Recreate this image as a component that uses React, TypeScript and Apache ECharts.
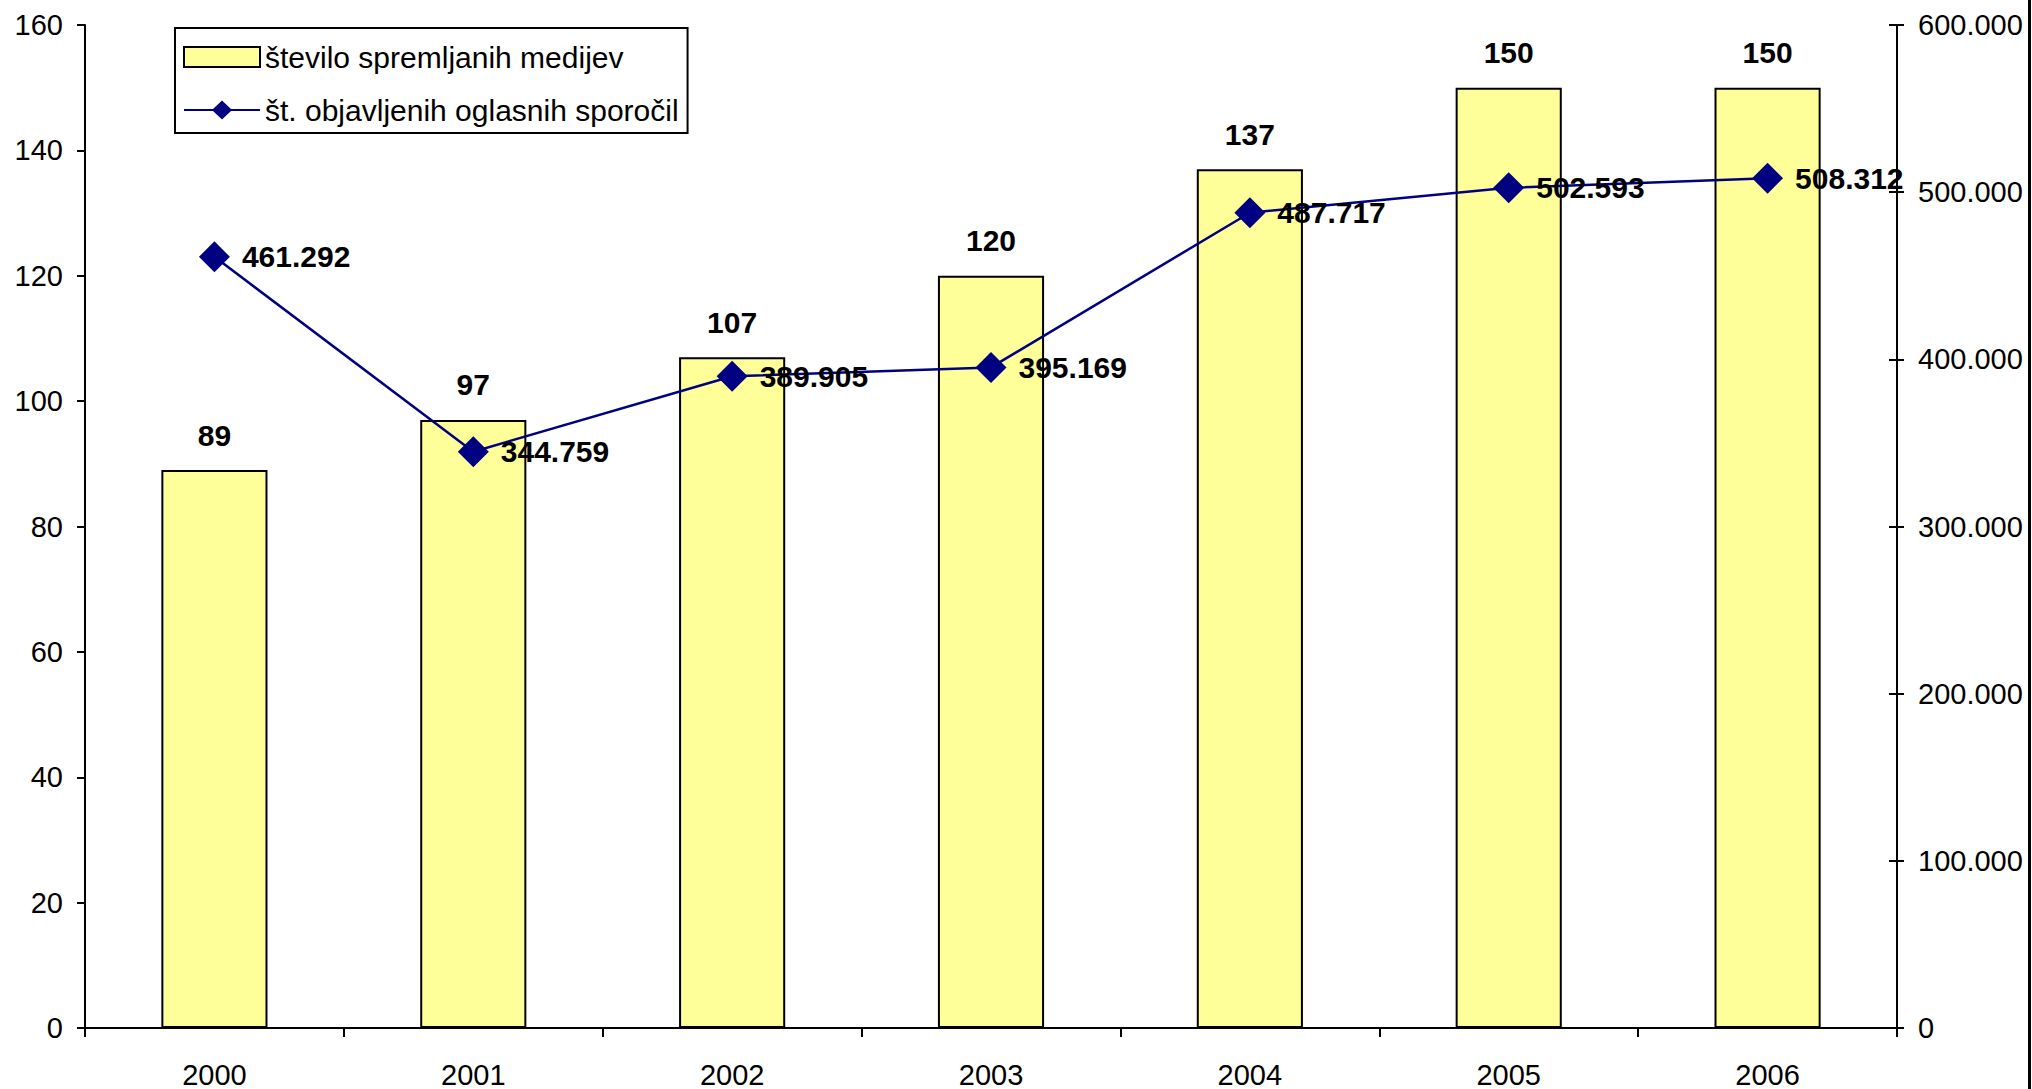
import React, { useEffect, useRef } from "react";
import * as echarts from "echarts";

const categories = ["2000", "2001", "2002", "2003", "2004", "2005", "2006"];
const mediaCount = [89, 97, 107, 120, 137, 150, 150];
const adMessages = [461292, 344759, 389905, 395169, 487717, 502593, 508312];
const barName = "število spremljanih medijev";
const lineName = "št. objavljenih oglasnih sporočil";

const FONT = "'Liberation Sans', Arial, sans-serif";
const LINE_ICON =
  "path://M0,9 L29,9 L38,0.5 L47,9 L76,9 L76,11 L47,11 L38,19.5 L29,11 L0,11 Z";

function fmtDot(v: number): string {
  return String(Math.round(v)).replace(/\B(?=(\d{3})+(?!\d))/g, ".");
}

export default function App() {
  const ref = useRef<HTMLDivElement>(null);
  useEffect(() => {
    if (!ref.current) return;
    const chart = echarts.init(ref.current, null, { renderer: "svg" });
    const axisLine = { show: true, lineStyle: { color: "#000", width: 2 } };
    chart.setOption({
      animation: false,
      backgroundColor: "#fff",
      textStyle: { fontFamily: FONT },
      grid: { left: 85, right: 135, top: 25, bottom: 56, containLabel: false },
      legend: {
        orient: "vertical",
        left: 175,
        top: 28,
        padding: [14, 9, 8, 8],
        itemGap: 23,
        itemWidth: 76,
        itemHeight: 20,
        borderColor: "#000",
        borderWidth: 2,
        backgroundColor: "#fff",
        textStyle: { fontSize: 30, color: "#000", fontFamily: FONT },
        data: [
          { name: barName, icon: "rect" },
          {
            name: lineName,
            icon: LINE_ICON,
            itemStyle: { color: "#000080", borderWidth: 0 },
            lineStyle: { width: 0, opacity: 0 },
          },
        ],
      },
      xAxis: {
        type: "category",
        data: categories,
        boundaryGap: true,
        axisLine,
        axisTick: { show: true, alignWithLabel: false, length: 9, lineStyle: { color: "#000", width: 2 } },
        axisLabel: { fontSize: 29, color: "#000", margin: 32, fontFamily: FONT },
        splitLine: { show: false },
      },
      yAxis: [
        {
          type: "value",
          min: 0,
          max: 160,
          interval: 20,
          position: "left",
          axisLine,
          axisTick: { show: true, length: 8, lineStyle: { color: "#000", width: 2 } },
          axisLabel: { fontSize: 29, color: "#000", margin: 22, fontFamily: FONT },
          splitLine: { show: false },
        },
        {
          type: "value",
          min: 0,
          max: 600000,
          interval: 100000,
          position: "right",
          axisLine,
          axisTick: { show: true, length: 7, lineStyle: { color: "#000", width: 2 } },
          axisLabel: {
            fontSize: 29,
            color: "#000",
            margin: 21,
            fontFamily: FONT,
            formatter: (v: number) => fmtDot(v),
          },
          splitLine: { show: false },
        },
        {
          type: "value",
          min: 0,
          max: 600000,
          interval: 100000,
          position: "right",
          axisLine: { show: false },
          axisTick: { show: true, inside: true, length: 8, lineStyle: { color: "#000", width: 2 } },
          axisLabel: { show: false },
          splitLine: { show: false },
        },
      ],
      series: [
        {
          name: barName,
          type: "bar",
          yAxisIndex: 0,
          data: mediaCount,
          barWidth: "41%",
          itemStyle: { color: "#FFFF99", borderColor: "#000", borderWidth: 2 },
          label: {
            show: true,
            position: "top",
            distance: 20,
            fontSize: 30,
            fontWeight: "bold",
            color: "#000",
            fontFamily: FONT,
          },
          z: 2,
        },
        {
          name: lineName,
          type: "line",
          yAxisIndex: 1,
          data: adMessages,
          symbol: "diamond",
          symbolSize: 31,
          lineStyle: { color: "#000080", width: 2.5 },
          itemStyle: { color: "#000080" },
          label: {
            show: true,
            position: "right",
            distance: 12,
            fontSize: 30,
            fontWeight: "bold",
            color: "#000",
            fontFamily: FONT,
            formatter: (p: any) => fmtDot(p.value),
          },
          z: 3,
        },
      ],
      graphic: [
        {
          type: "rect",
          shape: { x: 2028, y: 0, width: 3, height: 1089 },
          style: { fill: "#000" },
          silent: true,
        },
      ],
    });
    return () => chart.dispose();
  }, []);
  return (
    <div
      ref={ref}
      style={{ position: "fixed", left: 0, top: 0, width: 2032, height: 1089, background: "#fff" }}
    />
  );
}
